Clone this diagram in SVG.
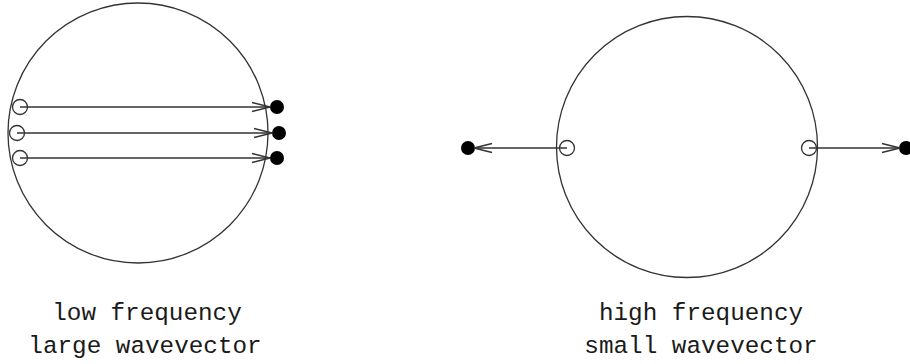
<svg xmlns="http://www.w3.org/2000/svg" width="910" height="364" viewBox="0 0 910 364">
<defs>
<style>
.ln{stroke:#333;stroke-width:1.3;fill:none}
.open{stroke:#333;stroke-width:1.3;fill:none}
.dot{fill:#000}
.lbl{font-family:"Liberation Mono","DejaVu Sans Mono",monospace;font-size:24.3px;fill:#1a1a1a;text-anchor:middle}
</style>
<marker id="v" viewBox="0 0 20 12" refX="19" refY="6" markerWidth="20" markerHeight="12" markerUnits="userSpaceOnUse" orient="auto">
<path d="M1,1.5 L19,6 L1,10.5" fill="none" stroke="#333" stroke-width="1.3"/>
</marker>
</defs>
<rect width="910" height="364" fill="#fff"/>
<g id="left-sphere">
<circle class="ln" cx="138" cy="133" r="130"/>
</g>
<g id="left-sources">
<circle class="open" cx="20" cy="107" r="7.5"/>
<circle class="open" cx="17" cy="133" r="7.5"/>
<circle class="open" cx="20" cy="158" r="7.5"/>
</g>
<g id="left-targets">
<circle class="dot" cx="277" cy="107" r="7"/>
<circle class="dot" cx="279" cy="133" r="7"/>
<circle class="dot" cx="277" cy="158" r="7"/>
</g>
<g id="right-sphere">
<circle class="ln" cx="687" cy="147" r="130.5"/>
</g>
<g id="right-sources">
<circle class="open" cx="567" cy="148" r="7.5"/>
<circle class="open" cx="809" cy="148" r="7.5"/>
</g>
<g id="right-targets">
<circle class="dot" cx="468" cy="148" r="7"/>
<circle class="dot" cx="906" cy="148" r="7"/>
</g>
<g id="connectors">
<line class="ln" x1="20" y1="107" x2="270" y2="107" marker-end="url(#v)"/>
<line class="ln" x1="17" y1="133" x2="272" y2="133" marker-end="url(#v)"/>
<line class="ln" x1="20" y1="158" x2="270" y2="158" marker-end="url(#v)"/>
<line class="ln" x1="567" y1="148" x2="474" y2="148" marker-end="url(#v)"/>
<line class="ln" x1="809" y1="148" x2="900" y2="148" marker-end="url(#v)"/>
</g>
<g id="labels">
<text class="lbl" x="147" y="320">low frequency</text>
<text class="lbl" x="145" y="353">large wavevector</text>
<text class="lbl" x="701" y="320">high frequency</text>
<text class="lbl" x="701" y="353">small wavevector</text>
</g>
</svg>
